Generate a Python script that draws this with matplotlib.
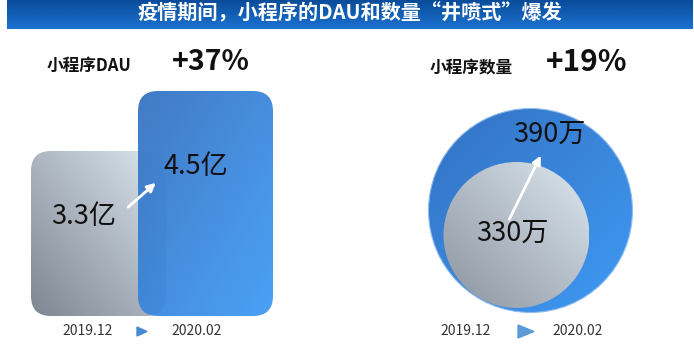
import matplotlib
matplotlib.use("Agg")
import matplotlib.pyplot as plt
import numpy as np
from matplotlib.patches import FancyBboxPatch, Circle, Polygon
from matplotlib.colors import to_rgb

plt.rcParams['font.family'] = ['Noto Sans CJK SC', 'DejaVu Sans']

# data
title = '疫情期间，小程序的DAU和数量“井喷式”爆发'
periods = ['2019.12', '2020.02']
dau_values = [3.3, 4.5]            # 亿
dau_labels = ['3.3亿', '4.5亿']
count_values = [330, 390]          # 万
count_labels = ['330万', '390万']
panel_names = ['小程序DAU', '小程序数量']
growth = ['+37%', '+19%']

W, H = 694, 360
fig = plt.figure(figsize=(W / 100, H / 100), dpi=100)
ax = fig.add_axes([0, 0, 1, 1])
ax.set_xlim(0, W)
ax.set_ylim(H, 0)
ax.axis('off')


def gradient(patch, x0, x1, y0, y1, c_start, c_end, vec, alpha=1.0, z=2):
    # fill patch with linear gradient along vec (dx, dy) in pixel space
    xs = np.linspace(0, 1, 120)
    ys = np.linspace(0, 1, 120)
    X, Y = np.meshgrid(xs, ys)
    t = X * vec[0] + Y * vec[1]
    t = (t - t.min()) / (t.max() - t.min())
    a, b = np.array(to_rgb(c_start)), np.array(to_rgb(c_end))
    img = a[None, None, :] * (1 - t[..., None]) + b[None, None, :] * t[..., None]
    im = ax.imshow(img, extent=(x0, x1, y1, y0), origin='upper', zorder=z,
                   alpha=alpha, interpolation='bilinear', aspect='auto')
    ax.add_patch(patch)
    patch.set_visible(False)
    im.set_clip_path(patch)


# title banner
banner = FancyBboxPatch((7, 0), 686, 29, boxstyle='square,pad=0')
gradient(banner, 7, 693, 0, 29, '#0a4c9a', '#1b72cf', (0, 1), z=1)
ax.text(350, 13, title, color='white', fontsize=14.5, fontweight='bold',
        ha='center', va='center', zorder=5)

# left panel: rounded bars, height proportional to DAU
base_y = 316
scale = 50
bar_x = [31, 138]
bar_w = 135
bar_grad = [('#dde7f0', '#7d8691', (-1, 1), 1.0),
            ('#3470c0', '#3d9af6', (1, 1), 0.93)]
for i, v in enumerate(dau_values):
    h = v * scale
    top = base_y - h
    box = FancyBboxPatch((bar_x[i], top), bar_w, h,
                         boxstyle='round,pad=0,rounding_size=20')
    c0, c1, vec, al = bar_grad[i]
    gradient(box, bar_x[i], bar_x[i] + bar_w, top, base_y, c0, c1, vec,
             alpha=al, z=2 + i)

ax.text(84, 216, dau_labels[0], fontsize=19.5, ha='center', va='center',
        color='#111111', zorder=6)
ax.text(196, 166, dau_labels[1], fontsize=19.5, ha='center', va='center',
        color='#111111', zorder=6)
ax.annotate('', xy=(158, 181), xytext=(126, 209),
            arrowprops=dict(arrowstyle='-|>,head_length=0.5,head_width=0.25',
                            color='white', lw=2), zorder=7)

# right panel: circles
outer = Circle((530.5, 210.5), 102)
gradient(outer, 428.5, 632.5, 108.5, 312.5, '#3472c3', '#3f99f3', (1, 1), z=2)
ax.add_patch(Circle((530.5, 210.5), 102, fill=False, ec='#8fbef0', lw=0.8, zorder=3))
inner = Circle((516.5, 235), 73)
gradient(inner, 443.5, 589.5, 162, 308, '#dde7f0', '#8a939e', (-1, 1), z=4)

ax.text(549, 134, count_labels[1], fontsize=19.5, ha='center', va='center',
        color='#111111', zorder=6)
ax.text(512, 233, count_labels[0], fontsize=19.5, ha='center', va='center',
        color='#111111', zorder=6)
ax.annotate('', xy=(542, 153), xytext=(508, 222),
            arrowprops=dict(arrowstyle='-|>,head_length=0.5,head_width=0.25',
                            color='white', lw=2), zorder=7)

# panel headings
ax.text(47, 66, panel_names[0], fontsize=12, fontweight='bold', ha='left',
        va='center', color='#111111')
ax.text(211, 62, growth[0], fontsize=20.5, fontweight='bold', ha='center',
        va='center', color='#111111')
ax.text(430, 68, panel_names[1], fontsize=12, fontweight='bold', ha='left',
        va='center', color='#111111')
ax.text(587, 62, growth[1], fontsize=21.5, fontweight='bold', ha='center',
        va='center', color='#111111')

# period labels and arrows
date_x = [(88, 197), (466, 578)]
for (xa, xb) in date_x:
    ax.text(xa, 331, periods[0], fontsize=10, ha='center', va='center', color='#333333')
    ax.text(xb, 331, periods[1], fontsize=10, ha='center', va='center', color='#333333')
ax.add_patch(Polygon([[137, 327], [137, 336], [147, 331.5]], closed=True,
                     color='#4a8ad0', zorder=3))
ax.add_patch(Polygon([[518, 325], [518, 338], [534, 331.5]], closed=True,
                     color='#5b9bd8', zorder=3))

fig.savefig('out.png', dpi=100, facecolor='white')
